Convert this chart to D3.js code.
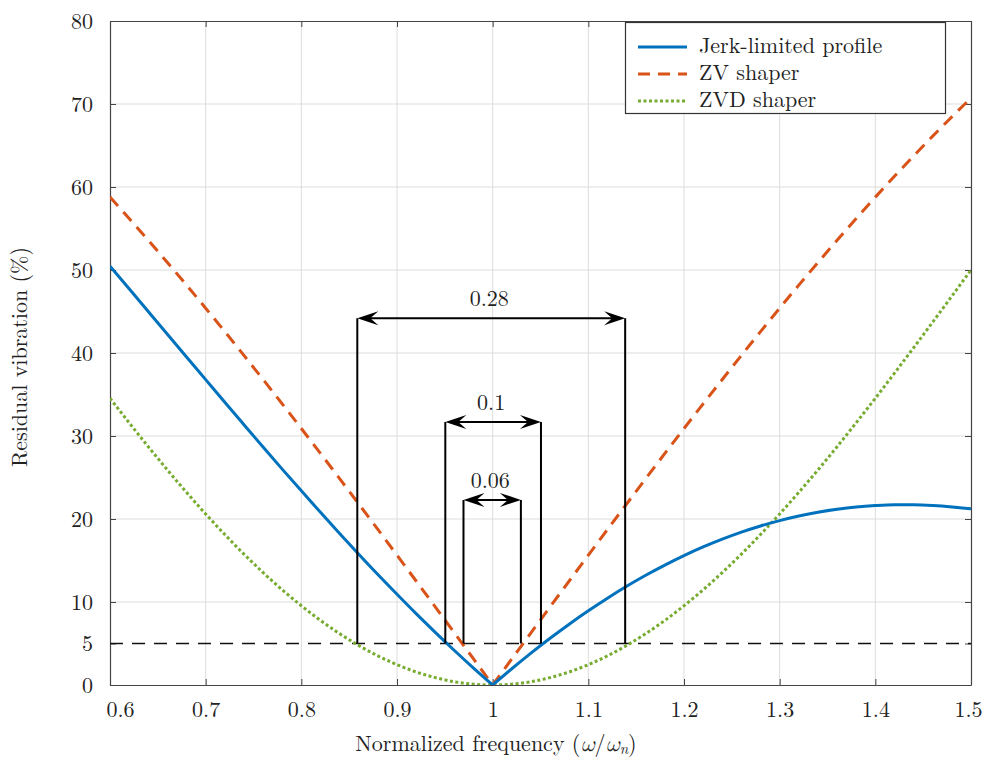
<!DOCTYPE html>
<html>
<head>
<meta charset="utf-8">
<script src="https://cdn.jsdelivr.net/npm/d3@7"></script>
<style>
  html, body { margin: 0; padding: 0; background: #fff; }
</style>
</head>
<body>
<svg id="chart" width="984" height="761"></svg>
<script>
// Normalized frequency samples (omega / omega_n)
const freq = [0.60, 0.62, 0.64, 0.66, 0.68, 0.70, 0.72, 0.74, 0.76, 0.78,
              0.80, 0.82, 0.84, 0.86, 0.88, 0.90, 0.92, 0.94, 0.96, 0.98,
              1.00, 1.02, 1.04, 1.06, 1.08, 1.10, 1.12, 1.14, 1.16, 1.18,
              1.20, 1.22, 1.24, 1.26, 1.28, 1.30, 1.32, 1.34, 1.36, 1.38,
              1.40, 1.42, 1.44, 1.46, 1.48, 1.50];

// Residual vibration (%) for each input shaping method
const jerkLimited = [50.46, 47.74, 45.00, 42.26, 39.52, 36.79, 34.06, 31.36, 28.67, 26.01,
                     23.39, 20.80, 18.26, 15.76, 13.31, 10.93, 8.60, 6.35, 4.16, 2.04,
                     0.00, 1.96, 3.84, 5.63, 7.33, 8.94, 10.46, 11.89, 13.22, 14.45,
                     15.59, 16.63, 17.57, 18.42, 19.16, 19.81, 20.36, 20.82, 21.18, 21.45,
                     21.62, 21.71, 21.71, 21.63, 21.46, 21.22];
const zvShaper = [58.78, 56.21, 53.58, 50.90, 48.18, 45.40, 42.58, 39.71, 36.81, 33.87,
                  30.90, 27.90, 24.87, 21.81, 18.74, 15.64, 12.53, 9.41, 6.28, 3.14,
                  0.00, 3.14, 6.28, 9.41, 12.53, 15.64, 18.74, 21.81, 24.87, 27.90,
                  30.90, 33.87, 36.81, 39.71, 42.58, 45.40, 48.18, 50.90, 53.58, 56.21,
                  58.78, 61.29, 63.74, 66.13, 68.45, 70.71];
const zvdShaper = [34.55, 31.60, 28.71, 25.91, 23.21, 20.61, 18.13, 15.77, 13.55, 11.47,
                   9.55, 7.78, 6.19, 4.76, 3.51, 2.45, 1.57, 0.89, 0.39, 0.10,
                   0.00, 0.10, 0.39, 0.89, 1.57, 2.45, 3.51, 4.76, 6.19, 7.78,
                   9.55, 11.47, 13.55, 15.77, 18.13, 20.61, 23.21, 25.91, 28.71, 31.60,
                   34.55, 37.57, 40.63, 43.73, 46.85, 50.00];

const seriesNames = ["Jerk-limited profile", "ZV shaper", "ZVD shaper"];

// Axis ticks
const xTicks = [0.6, 0.7, 0.8, 0.9, 1.0, 1.1, 1.2, 1.3, 1.4, 1.5];
const xTickLabels = ["0.6", "0.7", "0.8", "0.9", "1", "1.1", "1.2", "1.3", "1.4", "1.5"];
const yTicks = [0, 5, 10, 20, 30, 40, 50, 60, 70, 80];
const yGrid = [10, 20, 30, 40, 50, 60, 70];

// Vibration threshold and insensitivity-width brackets
const threshold = 5;
const bracketCenters = [0.9985, 1.0005, 0.9995];
const bracketWidths = [0.28, 0.1, 0.06];
const bracketTops = [44.2, 31.7, 22.3];
const bracketLabels = ["0.28", "0.1", "0.06"];

const colors = ["#0072BD", "#D95319", "#77AC30"];

const FONT = '"Latin Modern Roman", "Liberation Serif", serif';
const GREEK = '"Latin Modern Math", "DejaVu Serif", serif';
const FS = "22px";

const margin = { left: 110, right: 13, top: 21, bottom: 76 };
const W = 984, H = 761;
const svg = d3.select("#chart");

const x = d3.scaleLinear().domain([0.6, 1.5]).range([margin.left, W - margin.right]);
const y = d3.scaleLinear().domain([0, 80]).range([H - margin.bottom, margin.top]);
const x0 = x.range()[0], x1 = x.range()[1], y0 = y.range()[0], y1 = y.range()[1];

svg.append("defs").append("clipPath").attr("id", "plotClip")
  .append("rect").attr("x", x0).attr("y", y1).attr("width", x1 - x0).attr("height", y0 - y1);

// Grid
const grid = svg.append("g").attr("stroke", "#dcdcdc").attr("stroke-width", 1);
grid.selectAll("line.v").data(xTicks.slice(1, -1)).join("line")
  .attr("x1", d => x(d)).attr("x2", d => x(d)).attr("y1", y0).attr("y2", y1);
grid.selectAll("line.h").data(yGrid).join("line")
  .attr("y1", d => y(d)).attr("y2", d => y(d)).attr("x1", x0).attr("x2", x1);

// Axes (ticks point inward, box on all four sides)
const tickFmt = d => xTickLabels[xTicks.indexOf(d)];
const axB = svg.append("g").attr("transform", `translate(0,${y0})`)
  .call(d3.axisBottom(x).tickValues(xTicks).tickSizeInner(-6).tickSizeOuter(0).tickPadding(16).tickFormat(tickFmt));
const axT = svg.append("g").attr("transform", `translate(0,${y1})`)
  .call(d3.axisTop(x).tickValues(xTicks).tickSizeInner(-6).tickSizeOuter(0).tickFormat(""));
const axL = svg.append("g").attr("transform", `translate(${x0},0)`)
  .call(d3.axisLeft(y).tickValues(yTicks).tickSizeInner(-6).tickSizeOuter(0).tickPadding(17).tickFormat(d3.format("d")));
const axR = svg.append("g").attr("transform", `translate(${x1},0)`)
  .call(d3.axisRight(y).tickValues(yTicks).tickSizeInner(-6).tickSizeOuter(0).tickFormat(""));
[axB, axT, axL, axR].forEach(a => {
  a.selectAll(".domain").attr("stroke", "#444").attr("stroke-width", 1.2);
  a.selectAll(".tick line").attr("stroke", "#444").attr("stroke-width", 1);
  a.selectAll("text").style("font-family", FONT).style("font-size", FS).attr("fill", "#222");
});
// end labels sit clear of the figure corners
axB.selectAll(".tick text").filter(d => d === 0.6).attr("dx", 10);
axB.selectAll(".tick text").filter(d => d === 1.5).attr("dx", -3);

// Threshold line
svg.append("line")
  .attr("x1", x0).attr("x2", x1).attr("y1", y(threshold)).attr("y2", y(threshold))
  .attr("stroke", "#111").attr("stroke-width", 1.5).attr("stroke-dasharray", "13,9");

// Curves
const pts = vals => freq.map((f, i) => [f, vals[i]]);
const line = d3.line().x(d => x(d[0])).y(d => y(d[1])).curve(d3.curveMonotoneX);
const iMid = freq.indexOf(1.00);
const curves = svg.append("g").attr("clip-path", "url(#plotClip)");

function drawSeries(vals, color, dash, split) {
  const p = pts(vals);
  const parts = split ? [p.slice(0, iMid + 1), p.slice(iMid)] : [p];
  parts.forEach(seg => {
    curves.append("path").attr("d", line(seg))
      .attr("fill", "none").attr("stroke", color).attr("stroke-width", 3)
      .attr("stroke-dasharray", dash);
  });
}
drawSeries(zvdShaper, colors[2], "3,2.5", false);
drawSeries(zvShaper, colors[1], "12,8", true);
drawSeries(jerkLimited, colors[0], null, true);

// Brackets with double-headed arrows
function arrowHead(g, tipX, tipY, dir) {
  const L = 21, w = 7, n = 13;
  const p = [[tipX, tipY], [tipX + dir * L, tipY - w], [tipX + dir * n, tipY], [tipX + dir * L, tipY + w]];
  g.append("path").attr("d", "M" + p.map(q => q.join(",")).join("L") + "Z").attr("fill", "#000");
}
const br = svg.append("g");
bracketWidths.forEach((w, i) => {
  const lo = x(bracketCenters[i] - w / 2), hi = x(bracketCenters[i] + w / 2);
  const top = y(bracketTops[i]), base = y(threshold);
  br.append("path")
    .attr("d", `M${lo},${base}V${top}M${hi},${base}V${top}M${lo + 12},${top}H${hi - 12}`)
    .attr("fill", "none").attr("stroke", "#000").attr("stroke-width", 2);
  arrowHead(br, lo, top, 1);
  arrowHead(br, hi, top, -1);
  br.append("text").attr("x", (lo + hi) / 2 - 2).attr("y", top - 12)
    .attr("text-anchor", "middle").style("font-family", FONT).style("font-size", FS)
    .attr("fill", "#222").text(bracketLabels[i]);
});

// Axis titles
const xt = svg.append("text").attr("x", 496).attr("y", 751).attr("text-anchor", "middle")
  .style("font-family", FONT).style("font-size", FS).attr("fill", "#222");
xt.append("tspan").text("Normalized frequency (");
xt.append("tspan").style("font-family", GREEK).attr("font-style", "italic").text("ω");
xt.append("tspan").text("/");
xt.append("tspan").style("font-family", GREEK).attr("font-style", "italic").text("ω");
xt.append("tspan").attr("font-style", "italic").style("font-size", "15px").attr("dy", 3).text("n");
xt.append("tspan").attr("dy", -3).text(")");

svg.append("text").attr("transform", `translate(27,${(y0 + y1) / 2 + 4}) rotate(-90)`)
  .attr("text-anchor", "middle").style("font-family", FONT).style("font-size", FS)
  .attr("fill", "#222").text("Residual vibration (%)");

// Legend
const lg = svg.append("g");
lg.append("rect").attr("x", 625.5).attr("y", 22.5).attr("width", 320).attr("height", 91)
  .attr("fill", "#fff").attr("stroke", "#333").attr("stroke-width", 1.2);
const dashes = [null, "12,8", "3,2.5"];
seriesNames.forEach((name, i) => {
  const ry = 47 + i * 27;
  lg.append("line").attr("x1", 638).attr("x2", 687).attr("y1", ry).attr("y2", ry)
    .attr("stroke", colors[i]).attr("stroke-width", 3).attr("stroke-dasharray", dashes[i]);
  lg.append("text").attr("x", 699).attr("y", ry + 6).style("font-family", FONT)
    .style("font-size", FS).attr("fill", "#222").text(name);
});
</script>
</body>
</html>
